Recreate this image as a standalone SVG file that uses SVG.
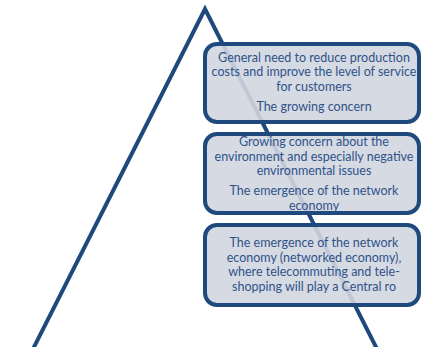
<svg xmlns="http://www.w3.org/2000/svg" width="422" height="347" viewBox="0 0 422 347">
<defs>
<style>
.box{fill:#d2d6e0;fill-opacity:0.9;stroke:#1f497d;stroke-width:4}
.t{font-family:Lato,"Liberation Sans",sans-serif;font-size:12.5px;fill:#2f5389;text-anchor:middle}
</style>
</defs>
<rect width="422" height="347" fill="#ffffff"/>
<g id="connectors">
<polyline points="33,349 205,9 377,349" fill="none" stroke="#1f497d" stroke-width="4" stroke-linejoin="miter"/>
</g>
<g id="node1">
<rect class="box" x="205" y="44" width="214" height="78" rx="12"/>
<text class="t" x="314" y="62">General need to reduce production</text>
<text class="t" x="314" y="76">costs and improve the level of service</text>
<text class="t" x="314" y="91">for customers</text>
<text class="t" x="314" y="111">The growing concern</text>
</g>
<g id="node2">
<rect class="box" x="205" y="134" width="214" height="79" rx="12"/>
<text class="t" x="314" y="146">Growing concern about the</text>
<text class="t" x="314" y="161">environment and especially negative</text>
<text class="t" x="314" y="175">environmental issues</text>
<text class="t" x="314" y="195">The emergence of the network</text>
<text class="t" x="314" y="210">economy</text>
</g>
<g id="node3">
<rect class="box" x="205" y="225" width="214" height="80" rx="12"/>
<text class="t" x="314" y="247">The emergence of the network</text>
<text class="t" x="314" y="262">economy (networked economy),</text>
<text class="t" x="314" y="276">where telecommuting and tele-</text>
<text class="t" x="314" y="291">shopping will play a Central ro</text>
</g>
</svg>
